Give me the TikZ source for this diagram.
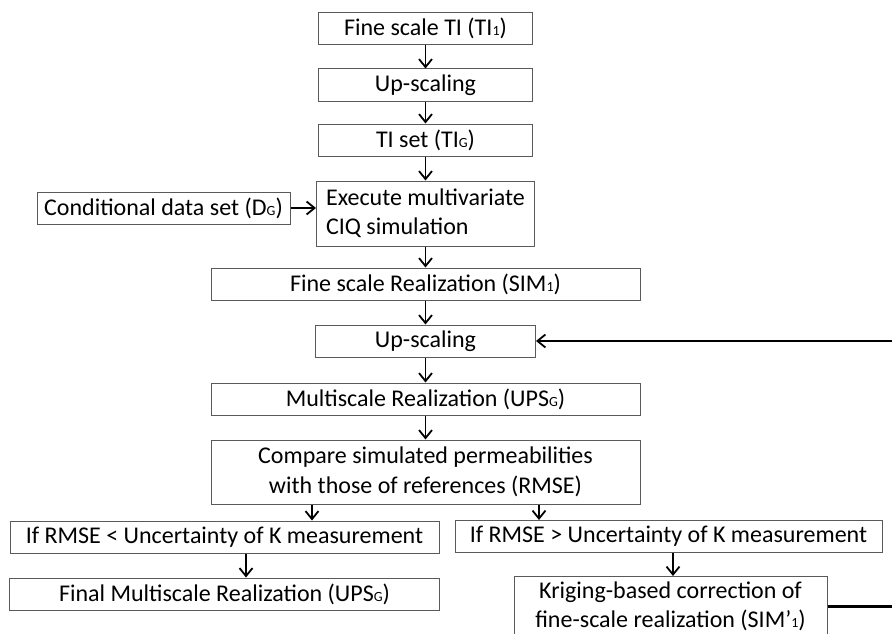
\documentclass[tikz,border=0pt]{standalone}
\usepackage{fontspec}
\setmainfont{Carlito}
\usetikzlibrary{arrows.meta,positioning}
\definecolor{boxgray}{RGB}{90,90,90}
\newcommand{\smallsub}[1]{{\fontsize{14}{14}\selectfont #1}}

\begin{document}
\begin{tikzpicture}[
  x=1pt,y=-1pt,
  node distance=24pt,
  box/.style={draw=boxgray,line width=1pt,fill=white,minimum height=32pt,inner sep=0pt,
              align=center,font=\fontsize{24}{29.5}\selectfont},
  narrowbox/.style={box,minimum width=214pt},
  widebox/.style={box,minimum width=429pt},
  arrow/.style={-{Straight Barb[length=8pt,width=13pt,line width=1.8pt]},line width=1.8pt},
  loopline/.style={line width=2.3pt}
]
\useasboundingbox (0,0) rectangle (892,634);
\clip (0,0) rectangle (892,634);
% main column
\node[narrowbox] (tifine) at (425.5,28.5) {Fine scale TI (TI\smallsub{1})};
\node[narrowbox,below=23.5pt of tifine] (upscale) {Up-scaling};
\node[narrowbox,below=22pt of upscale] (tiset) {TI set (TI\smallsub{G})};
\node[box,minimum width=218pt,minimum height=65pt,align=left,below=of tiset] (execute) {Execute multivariate\\CIQ simulation};
\node[box,minimum width=253pt] (conddata) at (163.5,208) {Conditional data set (D\smallsub{G})};
\node[widebox,below=21pt of execute] (finereal) {Fine scale Realization (SIM\smallsub{1})};
\node[box,minimum width=220pt,below=of finereal] (upscaletwo) {Up-scaling};
\node[widebox,below=25pt of upscaletwo] (multireal) {Multiscale Realization (UPS\smallsub{G})};
\node[widebox,minimum height=64pt,below=of multireal] (compare) {Compare simulated permeabilities\\with those of references (RMSE)};
% two branches
\node[box,minimum width=429pt] (ifless) at (224.5,537) {If RMSE < Uncertainty of K measurement};
\node[box,minimum width=430pt,below=of ifless] (final) {Final Multiscale Realization (UPS\smallsub{G})};
\node[box,minimum width=427pt] (ifmore) at (668.5,536.5) {If RMSE > Uncertainty of K measurement};
\node[box,minimum width=313pt,minimum height=60pt,below=23pt of ifmore,xshift=2pt] (kriging) {Kriging-based correction of\\fine-scale realization (SIM’\smallsub{1})};
\coordinate (rim) at (892,0);
% connectors
\draw[arrow] (tifine) -- (upscale);
\draw[arrow] (upscale) -- (tiset);
\draw[arrow] (tiset) -- (execute);
\draw[arrow] (conddata.east) -- (conddata.east -| execute.west);
\draw[arrow] (execute) -- (finereal);
\draw[arrow] (finereal) -- (upscaletwo);
\draw[arrow] (upscaletwo) -- (multireal);
\draw[arrow] (multireal) -- (compare);
\draw[arrow] ([xshift=-113.5pt]compare.south) -- ([xshift=-113.5pt]compare.south |- ifless.north);
\draw[arrow] ([xshift=113.5pt]compare.south) -- ([xshift=113.5pt]compare.south |- ifmore.north);
\draw[arrow] ([xshift=21.5pt]ifless.south) -- ([xshift=21.5pt]ifless.south |- final.north);
\draw[arrow] ([xshift=4.5pt]ifmore.south) -- ([xshift=4.5pt]ifmore.south |- kriging.north);
% feedback loop, cut at the right edge
\draw[loopline] (kriging.east) -- (kriging.east -| rim);
\draw[loopline,arrow] (upscaletwo.east -| rim) -- (upscaletwo.east);
\end{tikzpicture}
\end{document}
